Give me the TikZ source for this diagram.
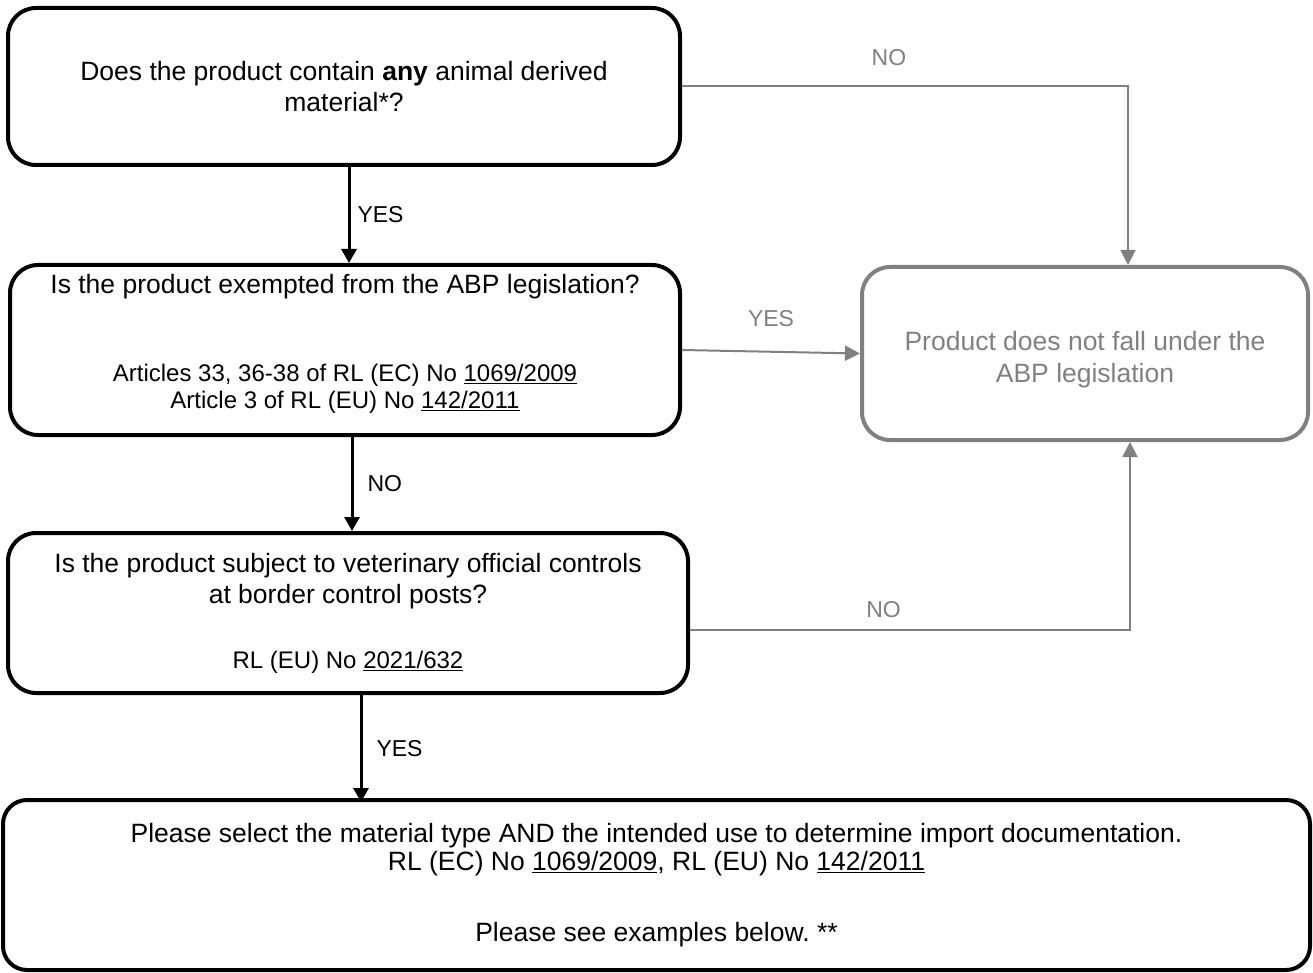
\documentclass[tikz,border=0pt]{standalone}
\usepackage{fontspec}
\setmainfont{Liberation Sans}
\usetikzlibrary{positioning,calc,arrows.meta}
\tikzset{
	qbox/.style={draw=black,line width=4pt,rounded corners=28pt,align=center,inner sep=0pt,font=\fontsize{26.5}{31}\selectfont},
	rbox/.style={draw=black!50,line width=4pt,rounded corners=28pt,align=center,inner sep=0pt,text=black!50,font=\fontsize{26.5}{32}\selectfont},
	yarr/.style={line width=3pt,-{Triangle[width=15pt,length=14pt]}},
	narr/.style={draw=black!50,line width=2pt,-{Triangle[width=15pt,length=15pt]}},
	lbl/.style={font=\fontsize{23}{26}\selectfont,inner sep=0pt}
}
\newcommand{\ul}[1]{\underline{#1}}
\newcommand{\smalltxt}{\fontsize{24}{27}\selectfont}
\frenchspacing

\begin{document}
\begin{tikzpicture}[x=1pt,y=-1pt]
	\useasboundingbox (0,0) rectangle (1313,973);
	
	%Questions
	\node[qbox,minimum width=672,minimum height=157] (q1) at (344,86.5)
		{Does the product contain \textbf{any} animal derived\\material*?};
	\node[qbox,font=\fontsize{26.5}{27}\selectfont,text depth=17pt,minimum width=670,minimum height=170] (q2) at (345,350)
		{Is the product exempted from the ABP legislation?\\[61pt]
		\smalltxt Articles 33, 36-38 of RL (EC) No \ul{1069/2009}\\
		\smalltxt Article 3 of RL (EU) No \ul{142/2011}};
	\node[qbox,minimum width=680,minimum height=160] (q3) at (348,613)
		{Is the product subject to veterinary official controls\\at border control posts?\\[34pt]
		\smalltxt RL (EU) No \ul{2021/632}};
	
	%Results
	\node[rbox,text height=63.5pt,minimum width=446,minimum height=173] (r) at (1085,353.5)
		{Product does not fall under the\\ABP legislation};
	\node[qbox,font=\fontsize{26.5}{28}\selectfont,rounded corners=24pt,minimum width=1307,minimum height=170] (s) at (656.5,885)
		{Please select the material type AND the intended use to determine import documentation.\\
		RL (EC) No \ul{1069/2009}, RL (EU) No \ul{142/2011}\\[43pt]
		Please see examples below.\ **};
	
	%YES
	\draw[yarr] ($(q1.south)+(5,0)$) -- ($(q2.north)+(4,0)$) node[lbl,midway,right=7pt] {YES};
	\draw[yarr] ($(q2.south)+(7,0)$) -- ($(q3.north)+(4,0)$) node[lbl,midway,right=14pt] {NO};
	\draw[yarr] ($(q3.south)+(13,0)$) -- ($(q3.south)+(13,107)$) node[lbl,midway,right=14pt] {YES};
	
	%NO
	\draw[narr] (q1.east) -| ($(r.north)+(43,0)$) node[lbl,pos=0.232,above=20pt,text=black!50] {NO};
	\draw[narr] (q2.east) -- (r.west) node[lbl,midway,above=24pt,text=black!50] {YES};
	\draw[narr] ($(q3.east)+(0,17)$) -| ($(r.south)+(45,0)$) node[lbl,pos=0.22,above=11pt,text=black!50] {NO};
	
\end{tikzpicture}
\end{document}
